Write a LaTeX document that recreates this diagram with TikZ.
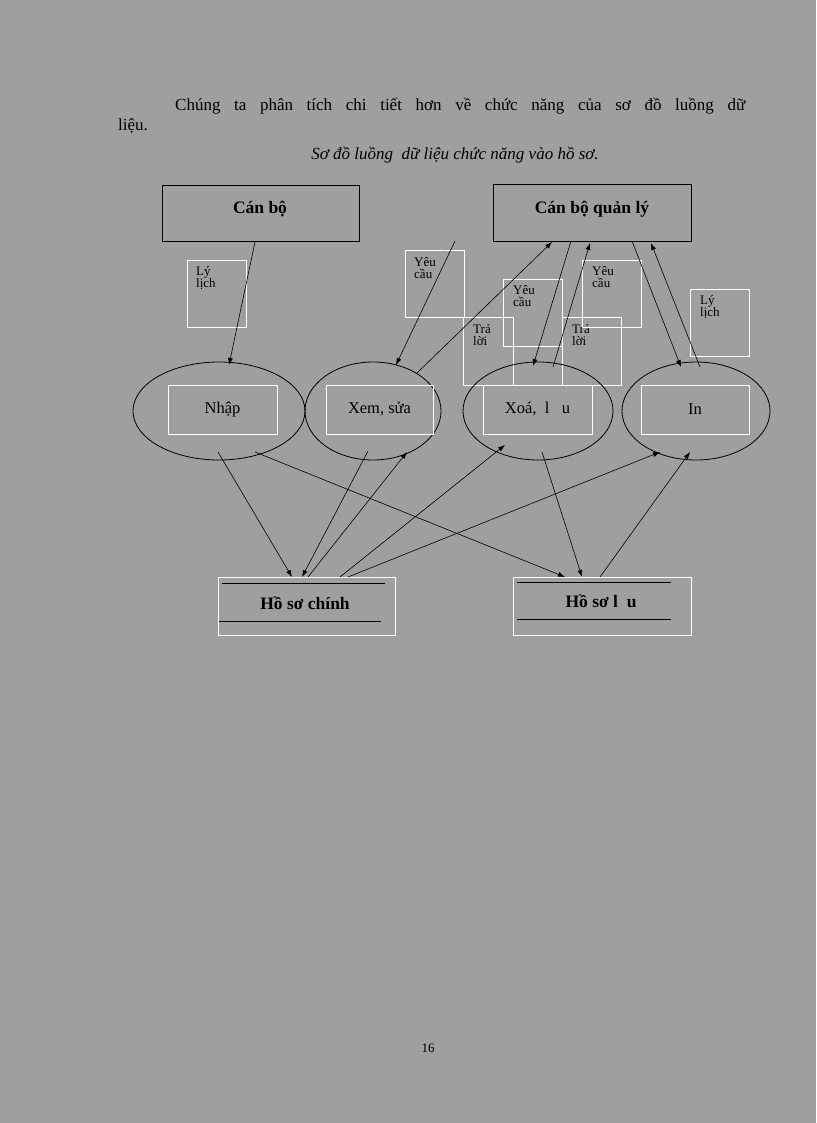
\documentclass[tikz,border=0pt]{standalone}
\usepackage{fontspec}
\setmainfont{Liberation Serif}
\usetikzlibrary{arrows.meta}
\begin{document}
\begin{tikzpicture}[x=1pt,y=-1pt,
  blk/.style={draw=black,line width=0.8pt},
  wht/.style={draw=white,line width=0.8pt},
  lab/.style={wht,minimum width=59pt,minimum height=67pt,anchor=north west,inner sep=0pt},
  labtxt/.style={font=\fontsize{13}{12}\selectfont,align=left,anchor=north west,inner sep=0pt},
  arr/.style={-{Latex[length=7pt,width=5pt]},line width=0.6pt},
  btxt/.style={font=\fontsize{17.5}{17.5}\selectfont\bfseries},
  ntxt/.style={font=\fontsize{16.5}{16.5}\selectfont}]
\fill[gray!75!white] (0,0) rectangle (816,1123);
\useasboundingbox (0,0) rectangle (816,1123);
% text
\node[anchor=west,font=\fontsize{17}{17}\selectfont,inner sep=0pt] (p1) at (175,106) {\makebox[570pt][s]{Chúng ta phân tích chi tiết hơn về chức năng của sơ đồ luồng dữ}};
\node[anchor=west,font=\fontsize{17}{17}\selectfont,inner sep=0pt] (p2) at (118,126) {liệu.};
\node[font=\fontsize{17}{17}\selectfont\itshape,inner sep=0pt] (cap) at (455,155) {Sơ đồ luồng\ \ dữ liệu chức năng vào hồ sơ.};
% top boxes
\node[blk,minimum width=197pt,minimum height=56pt,inner sep=0pt,anchor=north west] (cb) at (162,185) {};
\node[btxt] at (260,209) {Cán bộ};
\node[blk,minimum width=198pt,minimum height=57pt,inner sep=0pt,anchor=north west] (cbql) at (493,184) {};
\node[btxt] at (592,209) {Cán bộ quản lý};
% label boxes
\node[lab] (l1) at (187,260) {}; \node[labtxt] at (196,266) {Lý\\lịch};
\node[lab] (l2) at (405,250) {}; \node[labtxt] at (414,257) {Yêu\\cầu};
\node[lab,minimum width=50pt,minimum height=68pt] (l3) at (463,317) {}; \node[labtxt] at (473,325) {Trả\\lời};
\node[lab] (l4) at (503,279) {}; \node[labtxt] at (513,285) {Yêu\\cầu};
\node[lab,minimum height=68pt] (l5) at (562,317) {}; \node[labtxt] at (572,325) {Trả\\lời};
\node[lab] (l6) at (582,260) {}; \node[labtxt] at (592,266) {Yêu\\cầu};
\node[lab] (l7) at (690,289) {}; \node[labtxt] at (700,295) {Lý\\lịch};
% ellipses
\draw[blk] (219,411) ellipse (86 and 49);
\draw[blk] (373,411) ellipse (68 and 49);
\draw[blk] (538,411) ellipse (75 and 49);
\draw[blk] (696,411) ellipse (74 and 49);
\node[wht,minimum width=109pt,minimum height=49pt,inner sep=0pt,ntxt] (e1) at (222.5,409.5) {Nhập};
\node[wht,minimum width=107pt,minimum height=49pt,inner sep=0pt,ntxt] (e2) at (379.5,409.5) {Xem, sửa};
\node[wht,minimum width=109pt,minimum height=49pt,inner sep=0pt,ntxt] (e3) at (537.5,409.5) {Xoá,\ \ l\ \ \ u};
\node[wht,minimum width=108pt,minimum height=49pt,inner sep=0pt,ntxt] (e4) at (695,409.5) {In};
% stores
\node[wht,minimum width=177pt,minimum height=58pt,inner sep=0pt] (hsc) at (306.5,606) {};
\draw[black,line width=0.9pt] (222,583) -- (385,583) (219,621) -- (381,621);
\node[btxt] at (305,603) {Hồ sơ chính};
\node[wht,minimum width=178pt,minimum height=58pt,inner sep=0pt] (hsl) at (602,606) {};
\draw[black,line width=0.9pt] (517,582) -- (671,582) (517,619) -- (671,619);
\node[btxt] at (601,601) {Hồ sơ l\ \ u};
% top connectors
\coordinate (a1) at (255,242); \coordinate (a1e) at (229,365);
\coordinate (b1) at (455,241); \coordinate (b1e) at (396,365);
\coordinate (b2) at (417,373); \coordinate (b2e) at (552,242);
\coordinate (c1) at (571,241); \coordinate (c1e) at (533,366);
\coordinate (c2) at (553,367); \coordinate (c2e) at (590,243);
\coordinate (d1) at (632,241); \coordinate (d1e) at (681,367);
\coordinate (d2) at (700,367); \coordinate (d2e) at (651,243);
\draw[arr] (a1) -- (a1e);
\draw[arr] (b1) -- (b1e);
\draw[arr] (b2) -- (b2e);
\draw[arr] (c1) -- (c1e);
\draw[arr] (c2) -- (c2e);
\draw[arr] (d1) -- (d1e);
\draw[arr] (d2) -- (d2e);
% bottom connectors
\coordinate (n1) at (218,452); \coordinate (n1e) at (292,577);
\coordinate (n2) at (255,452); \coordinate (n2e) at (565,577);
\coordinate (x1) at (368,451); \coordinate (x1e) at (302,577);
\coordinate (x2) at (308,577); \coordinate (x2e) at (407,452);
\coordinate (h1) at (340,577); \coordinate (h1e) at (505,445);
\coordinate (h2) at (348,577); \coordinate (h2e) at (660,452);
\coordinate (s1) at (542,452); \coordinate (s1e) at (582,577);
\coordinate (s2) at (600,577); \coordinate (s2e) at (690,452);
\draw[arr] (n1) -- (n1e);
\draw[arr] (n2) -- (n2e);
\draw[arr] (x1) -- (x1e);
\draw[arr] (x2) -- (x2e);
\draw[arr] (h1) -- (h1e);
\draw[arr] (h2) -- (h2e);
\draw[arr] (s1) -- (s1e);
\draw[arr] (s2) -- (s2e);
\node[font=\fontsize{13}{13}\selectfont] (pg) at (428,1048) {16};
\end{tikzpicture}
\end{document}
